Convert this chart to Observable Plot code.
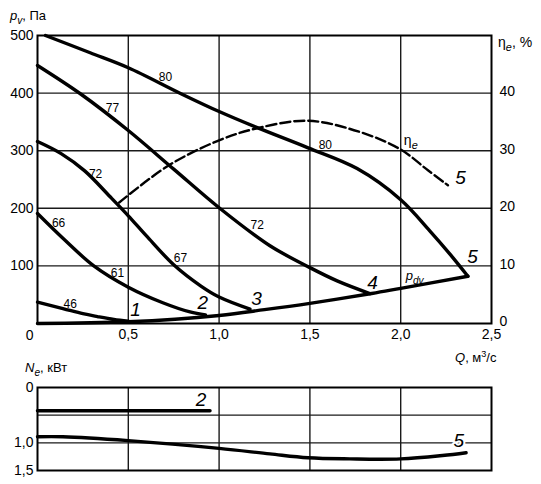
<!DOCTYPE html>
<html><head><meta charset="utf-8">
<script src="https://cdn.jsdelivr.net/npm/d3@7"></script>
<script src="https://cdn.jsdelivr.net/npm/@observablehq/plot@0.6"></script>
<style>body{margin:0;background:#fff;} svg{display:block;}</style>
</head><body><div id="chart"></div>
<script>
// ---- ticks ----
const qTicks = [0.5, 1, 1.5, 2, 2.5];
const qGrid = [0.5, 1, 1.5, 2];
const pTicks = [100, 200, 300, 400, 500];
const pGrid = [100, 200, 300, 400];
const etaTicks = [0, 10, 20, 30, 40];
const nTicks = [0, 1, 1.5];
const nGrid = [0.5, 1];

// ---- fan pressure curves p_v (Pa) vs Q (m3/s) ----
const fan1Q = [0, 0.14, 0.25, 0.33, 0.42, 0.5];
const fan1P = [37, 26, 17, 12, 7, 4];
const fan2Q = [0, 0.14, 0.31, 0.5, 0.69, 0.84, 0.925];
const fan2P = [191, 148, 100, 63, 36, 20, 15];
const fan3Q = [0, 0.13, 0.26, 0.4, 0.5, 0.6, 0.75, 0.9, 1.0, 1.17];
const fan3P = [316, 295, 265, 220, 187, 152, 102, 65, 46, 25];
const fan4Q = [0, 0.24, 0.5, 0.75, 1.0, 1.28, 1.5, 1.65, 1.83];
const fan4P = [448, 398, 335, 268, 201, 135, 97, 74, 52];
const fan5Q = [0.044, 0.29, 0.5, 0.79, 1.0, 1.21, 1.49, 1.76, 2.0, 2.16, 2.27, 2.37];
const fan5P = [500, 470, 444, 399, 368, 340, 305, 269, 215, 161, 121, 82];

// ---- dynamic pressure p_dv ----
const pdvQ = [0, 0.5, 1.0, 1.25, 1.5, 1.84, 2.0, 2.37];
const pdvP = [0, 3, 14, 24, 35, 52, 61, 82];

// ---- efficiency eta_e (%) of fan 5 ----
const etaQ = [0.45, 0.72, 1.0, 1.21, 1.49, 1.78, 2.0, 2.15, 2.26];
const etaV = [21, 27.4, 31.8, 33.9, 35.2, 33.2, 30.2, 26.6, 24];

// ---- power N_e (kW) ----
const n2Q = [0, 0.95];
const n2V = [0.42, 0.42];
const n5Q = [0, 0.14, 0.5, 1.0, 1.28, 1.49, 1.72, 2.0, 2.23, 2.36];
const n5V = [0.89, 0.89, 0.96, 1.1, 1.2, 1.27, 1.29, 1.29, 1.23, 1.18];

// ---- labels on curves ----
const curveLabels = ["80", "77", "72", "66", "61", "67", "46", "72", "80"];
const curveLabelQ = [0.705, 0.413, 0.32, 0.116, 0.44, 0.787, 0.18, 1.21, 1.585];
const curveLabelP = [427, 373, 260, 174, 87, 113, 33, 170, 309];
const pointLabels = ["1", "2", "3", "4", "5", "5"];
const pointLabelQ = [0.54, 0.91, 1.206, 1.845, 2.395, 2.33];
const pointLabelP = [23, 35, 43, 71, 115, 253];
const nLabels = ["2", "5"];
const nLabelQ = [0.9, 2.32];
const nLabelV = [0.22, 0.96];

const FONT = "'Liberation Sans', Arial, Helvetica, sans-serif";
const rows = (qs, vs, id) => qs.map((q, i) => ({q, v: vs[i], id}));
const fanRows = [
  rows(fan1Q, fan1P, 1), rows(fan2Q, fan2P, 2), rows(fan3Q, fan3P, 3),
  rows(fan4Q, fan4P, 4), rows(fan5Q, fan5P, 5)
].flat();
const pdvRows = rows(pdvQ, pdvP, "pdv");
const etaRows = rows(etaQ, etaV, "eta");
const nRows = [rows(n2Q, n2V, 2), rows(n5Q, n5V, 5)].flat();
const cLab = curveLabels.map((t, i) => ({t, q: curveLabelQ[i], v: curveLabelP[i]}));
const pLab = pointLabels.map((t, i) => ({t, q: pointLabelQ[i], v: pointLabelP[i]}));
const nLab = nLabels.map((t, i) => ({t, q: nLabelQ[i], v: nLabelV[i]}));
const comma = d => d.toFixed(1).replace(".", ",");
const gridStyle = {stroke: "#1a1a1a", strokeOpacity: 1, strokeWidth: 1.4};

const topPlot = Plot.plot({
  width: 541, height: 350,
  marginLeft: 37, marginRight: 50, marginTop: 35, marginBottom: 27,
  style: {fontFamily: FONT, fontSize: "14px", color: "#000", background: "#fff", overflow: "visible"},
  x: {domain: [0, 2.5]},
  y: {domain: [0, 500]},
  marks: [
    Plot.gridX(qGrid, gridStyle),
    Plot.gridY(pGrid, gridStyle),
    Plot.frame({stroke: "#000", strokeWidth: 2}),
    Plot.axisX(qTicks, {tickSize: 0, tickPadding: 6, tickFormat: comma, label: null, fontSize: 14}),
    Plot.axisY(pTicks, {anchor: "left", tickSize: 0, tickPadding: 4, label: null, fontSize: 14}),
    Plot.axisY(etaTicks.map(d => d * 10), {anchor: "right", tickSize: 0, tickPadding: 8, dy: -1.5, tickFormat: d => String(d / 10), label: null, fontSize: 14}),
    Plot.text(["0"], {frameAnchor: "bottom-left", text: d => d, textAnchor: "end", lineAnchor: "middle", dx: -4, dy: 12, fontSize: 14}),
    Plot.line(pdvRows, {x: "q", y: "v", stroke: "#000", strokeWidth: 3.4, curve: "catmull-rom"}),
    Plot.line(fanRows, {x: "q", y: "v", z: "id", stroke: "#000", strokeWidth: 3.4, curve: "catmull-rom"}),
    Plot.line(etaRows, {x: "q", y: d => d.v * 10, stroke: "#000", strokeWidth: 2.4, strokeDasharray: "10,4", curve: "catmull-rom"}),
    Plot.text(cLab, {x: "q", y: "v", text: "t", fontSize: 12}),
    Plot.text(pLab, {x: "q", y: "v", text: "t", fontSize: 19, fontStyle: "italic"})
  ]
});

const bottomPlot = Plot.plot({
  width: 541, height: 134,
  marginLeft: 37, marginRight: 50, marginTop: 37, marginBottom: 14,
  style: {fontFamily: FONT, fontSize: "14px", color: "#000", background: "#fff", overflow: "visible"},
  x: {domain: [0, 2.5], axis: null},
  y: {domain: [0, 1.5], reverse: true},
  marks: [
    Plot.gridX(qGrid, gridStyle),
    Plot.gridY(nGrid, gridStyle),
    Plot.frame({stroke: "#000", strokeWidth: 2}),
    Plot.axisY(nTicks, {anchor: "left", tickSize: 0, tickPadding: 4, label: null, fontSize: 14,
      tickFormat: d => d === 0 ? "0" : comma(d)}),
    Plot.line(nRows, {x: "q", y: "v", z: "id", stroke: "#000", strokeWidth: 3.4, curve: "catmull-rom"}),
    Plot.text(nLab, {x: "q", y: "v", text: "t", fontSize: 19, fontStyle: "italic", stroke: "#fff", strokeWidth: 4, fill: "#000"})
  ]
});

// rich labels with italics and sub/superscripts
function richText(svg, x, y, parts, size, anchor) {
  const t = d3.select(svg).append("text")
    .attr("x", x).attr("y", y)
    .attr("font-family", FONT).attr("font-size", size).attr("fill", "#000")
    .attr("text-anchor", anchor || "start");
  parts.forEach(p => {
    const ts = t.append("tspan").text(p.s);
    if (p.i) ts.attr("font-style", "italic");
    if (p.sub) ts.attr("font-size", size * 0.78).attr("dy", size * 0.3);
    if (p.sup) ts.attr("font-size", size * 0.7).attr("dy", -size * 0.4);
    if (p.back) ts.attr("dy", p.back);
  });
}
const sx = topPlot.scale("x"), sy = topPlot.scale("y");
const pdvLabelQ = 2.03, pdvLabelP = 75;
const etaLabelQ = 2.02, etaLabelV = 30.2;
richText(topPlot, 10, 20, [{s: "p", i: 1}, {s: "v", i: 1, sub: 1}, {s: ", Па", back: -13 * 0.3}], 13);
richText(topPlot, 498, 47, [{s: "η"}, {s: "e", i: 1, sub: 1}, {s: ", %", back: -14 * 0.3}], 14);
richText(topPlot, sx.apply(pdvLabelQ), sy.apply(pdvLabelP), [{s: "p", i: 1}, {s: "dv", i: 1, sub: 1}], 13);
richText(topPlot, sx.apply(etaLabelQ), sy.apply(etaLabelV * 10) - 4, [{s: "η"}, {s: "e", i: 1, sub: 1}], 14);
richText(bottomPlot, 455, 12, [{s: "Q", i: 1}, {s: ", м"}, {s: "3", sup: 1}, {s: "/с", back: 13 * 0.4}], 13);
richText(bottomPlot, 25, 22, [{s: "N", i: 1}, {s: "e", i: 1, sub: 1}, {s: ", кВт", back: -13 * 0.3}], 13);

document.getElementById("chart").append(topPlot, bottomPlot);
</script>
</body></html>
